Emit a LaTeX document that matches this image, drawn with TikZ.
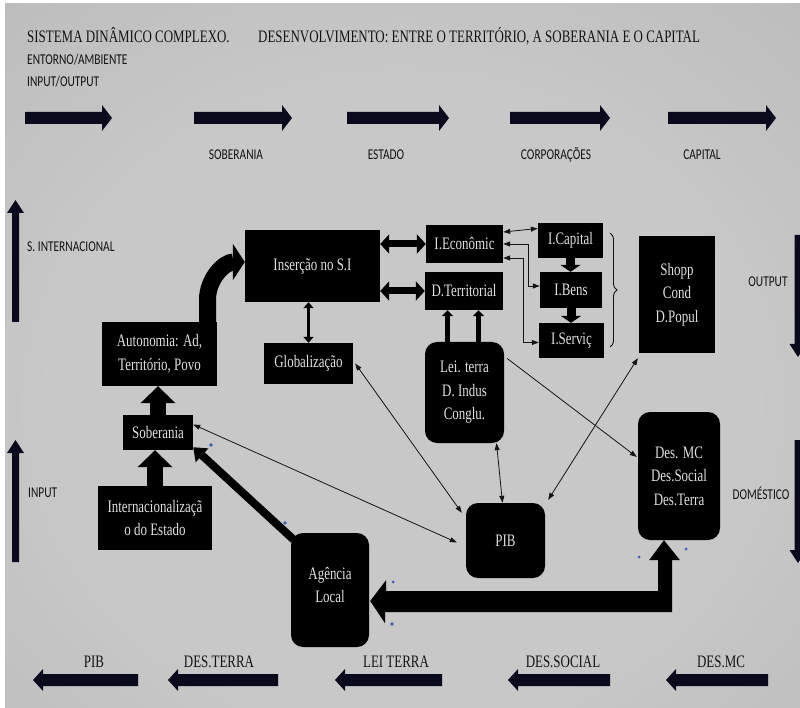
\documentclass[tikz,border=0pt]{standalone}
\usepackage{fontspec}
\setmainfont{Liberation Serif}[FakeStretch=0.74]
\newfontfamily\lblfont{Carlito}[FakeStretch=0.76]
\usetikzlibrary{arrows.meta,calc,decorations.pathreplacing}
\definecolor{bgin}{RGB}{200,200,200}
\definecolor{bgout}{RGB}{162,162,162}
\definecolor{boxtxt}{RGB}{225,225,225}
\definecolor{navy}{RGB}{10,10,28}
\definecolor{ink}{RGB}{20,20,20}
\definecolor{dotblue}{RGB}{60,90,180}
\pgfdeclareradialshading{bgshade}{\pgfpoint{0bp}{-5bp}}{color(0bp)=(bgin); color(22bp)=(bgin); color(75bp)=(bgout)}
\newcommand{\myRarrow}[3]{\fill[navy] (#1,#3-6) -- (#2-10,#3-6) -- (#2-10,#3-13) -- (#2,#3) -- (#2-10,#3+13) -- (#2-10,#3+6) -- (#1,#3+6) -- cycle;}
\newcommand{\myLarrow}[3]{\fill[navy] (#1,#3) -- (#1+10,#3-11) -- (#1+10,#3-6) -- (#2,#3-6) -- (#2,#3+6) -- (#1+10,#3+6) -- (#1+10,#3+11) -- cycle;}
\newcommand{\myUarrow}[3]{\fill[navy] (#1,#2) -- (#1+8.5,#2+13) -- (#1+3.5,#2+13) -- (#1+3.5,#3) -- (#1-3.5,#3) -- (#1-3.5,#2+13) -- (#1-8.5,#2+13) -- cycle;}
\newcommand{\myDarrow}[3]{\fill[navy] (#1,#2) -- (#1+8.5,#2-13) -- (#1+3.5,#2-13) -- (#1+3.5,#3) -- (#1-3.5,#3) -- (#1-3.5,#2-13) -- (#1-8.5,#2-13) -- cycle;}
\tikzset{
  blackbox/.style={fill=black, text=boxtxt, font=\fontsize{17.5}{23.5}\selectfont, align=center, inner sep=0pt},
  roundbox/.style={blackbox, rounded corners=12pt},
  boxtext/.style={text=boxtxt, font=\fontsize{17.5}{23.5}\selectfont, align=center, inner sep=0pt},
  sanslbl/.style={text=ink, font=\lblfont\fontsize{15}{17}\selectfont, inner sep=0pt},
  seriflbl/.style={text=ink, font=\fontsize{17.5}{20}\selectfont, inner sep=0pt},
  thinlink/.style={draw=ink, line width=0.8pt, {Triangle[length=7pt,width=5pt]}-{Triangle[length=7pt,width=5pt]}},
  thinone/.style={draw=ink, line width=0.8pt, -{Triangle[length=7pt,width=5pt]}},
  midlink/.style={draw=black, line width=7pt, {Triangle[length=9pt,width=19pt]}-{Triangle[length=9pt,width=19pt]}},
  smalldown/.style={draw=black, line width=9pt, -{Triangle[length=7pt,width=20pt]}},
  bigup/.style={draw=black, line width=16pt, -{Triangle[length=17pt,width=34pt]}},
  diaglink/.style={draw=black, line width=8pt, -{Triangle[length=12pt,width=18pt]}},
  curvelink/.style={draw=black, line width=17pt, -{Triangle[length=12pt,width=36pt]}},
  stem/.style={draw=black, line width=5pt, -{Triangle[length=6pt,width=11pt]}},
  dbllink/.style={draw=black, line width=3pt, {Triangle[length=6pt,width=10pt]}-{Triangle[length=6pt,width=10pt]}},
  hdot/.style={fill=dotblue}
}
\begin{document}
\begin{tikzpicture}[x=1pt,y=-1pt]
\useasboundingbox (0,0) rectangle (800,708);
\clip (0,0) rectangle (800,708);
\fill[white] (0,0) rectangle (800,708);
\shade[shading=bgshade] (5,4) rectangle (800,708);

% title and side texts
\node[seriflbl, anchor=base west] (t1) at (27,43) {SISTEMA DINÂMICO COMPLEXO.};
\node[seriflbl, anchor=base west] (t2) at (258,43) {DESENVOLVIMENTO: ENTRE O TERRITÓRIO, A SOBERANIA E O CAPITAL};
\node[sanslbl, anchor=west] (ent) at (27,60) {ENTORNO/AMBIENTE};
\node[sanslbl, anchor=west] (io) at (27,82) {INPUT/OUTPUT};

% top arrows
\myRarrow{25}{112}{118}
\myRarrow{194}{292}{118}
\myRarrow{347}{449}{118}
\myRarrow{510}{610}{118}
\myRarrow{668}{776}{118}
\node[sanslbl] (l1) at (236,155) {SOBERANIA};
\node[sanslbl] (l2) at (386,155) {ESTADO};
\node[sanslbl] (l3) at (556,155) {CORPORAÇÕES};
\node[sanslbl] (l4) at (702,155) {CAPITAL};

% side arrows
\myUarrow{15.5}{200}{322}
\myUarrow{15.5}{440}{562}
\myDarrow{798}{357}{235}
\myDarrow{798}{563}{440}
\node[sanslbl, anchor=west] (si) at (27,247) {S. INTERNACIONAL};
\node[sanslbl, anchor=west] (inp) at (28,493) {INPUT};
\node[sanslbl] (outp) at (768,282) {OUTPUT};
\node[sanslbl] (dom) at (761,493) {DOMÉSTICO};

% bottom arrows
\myLarrow{33}{138}{680}
\myLarrow{168}{278}{680}
\myLarrow{335}{442}{680}
\myLarrow{508}{610}{680}
\myLarrow{666}{768}{680}
\node[seriflbl, anchor=base] (b1) at (94,667) {PIB};
\node[seriflbl, anchor=base] (b2) at (219,667) {DES.TERRA};
\node[seriflbl, anchor=base] (b3) at (396,667) {LEI TERRA};
\node[seriflbl, anchor=base] (b4) at (563,667) {DES.SOCIAL};
\node[seriflbl, anchor=base] (b5) at (721,667) {DES.MC};

% boxes
\node[blackbox, minimum width=135pt, minimum height=72pt] (ins) at (312.5,266) {Inserção no S.I};
\node[blackbox, minimum width=115pt, minimum height=64pt] (auto) at (159.5,354) {Autonomia: Ad,\\Território, Povo};
\node[blackbox, minimum width=89pt, minimum height=41pt] (glob) at (308.5,363.5) {Globalização};
\node[blackbox, minimum width=77pt, minimum height=38pt] (econ) at (464.5,244) {I.Econômic};
\node[blackbox, minimum width=78pt, minimum height=38pt] (dterr) at (464,291) {D.Territorial};
\node[blackbox, minimum width=65pt, minimum height=35pt] (icap) at (570.5,240.5) {I.Capital};
\node[blackbox, minimum width=62pt, minimum height=36pt] (ibens) at (571,290) {I.Bens};
\node[blackbox, minimum width=65pt, minimum height=35pt] (iserv) at (571.5,340.5) {I.Serviç};
\node[blackbox, minimum width=76pt, minimum height=117pt] (shopp) at (677,294.5) {Shopp\\Cond\\D.Popul};
\node[roundbox, minimum width=79pt, minimum height=101pt] (lei) at (464.5,392.5) {Lei. terra\\D. Indus\\Conglu.};
\node[roundbox, minimum width=79pt, minimum height=75pt] (pib) at (505.5,540.5) {PIB};
\node[roundbox, minimum width=82pt, minimum height=128pt] (desmc) at (679,476) {Des. MC\\Des.Social\\Des.Terra};
\node[roundbox, minimum width=78pt, minimum height=114pt] (agencia) at (330,590) {};
\node[boxtext] (agtext) at ([yshift=5pt]agencia.center) {Agência\\Local};
\node[blackbox, minimum width=70pt, minimum height=35pt] (sob) at (158,432.5) {Soberania};
\node[blackbox, minimum width=114pt, minimum height=64pt] (intl) at (155,518) {Internacionalizaçã\\o do Estado};

% brace
\draw[ink, line width=0.9pt, decorate, decoration={brace, amplitude=7pt}] (610,233) -- (610,347);

% thick connectors
\draw[curvelink] ([xshift=48pt]auto.north) -- ++(0,-22) to[out=90,in=180] ([yshift=4pt]ins.west);
\draw[dbllink] (glob.north |- ins.south) -- (glob.north);
\draw[midlink] (ins.east |- econ.west) -- (econ.west);
\draw[midlink] (ins.east |- dterr.west) -- (dterr.west);
\draw[smalldown] (icap.south) -- (icap.south |- ibens.north);
\draw[smalldown] (ibens.south) -- (ibens.south |- iserv.north);
\draw[stem] ([xshift=-17pt]lei.north) -- ([xshift=-17pt]lei.north |- dterr.south);
\draw[stem] ([xshift=14pt]lei.north) -- ([xshift=14pt]lei.north |- dterr.south);
\draw[bigup] (intl.north) -- (intl.north |- sob.south);
\draw[bigup] (sob.north) -- (sob.north |- auto.south);
\draw[diaglink] ([xshift=3pt,yshift=-7pt]agencia.north west) -- ([yshift=3pt]sob.south east);

% big L arrow between Des. MC and Agência Local
\coordinate (uptip) at ([xshift=-15pt]desmc.south);
\coordinate (lefttip) at ([xshift=1pt,yshift=-11pt]agencia.east);
\fill[black] (uptip) -- ++(16,20) -- ++(-8,0) -- ++(0,52) -- ++(-287,0) -- ++(0,11) -- (lefttip) -- ++(16,-21) -- ++(0,11) -- ++(272,0) -- ++(0,-31) -- ++(-9,0) -- cycle;

% thin connectors
\draw[thinlink] ([yshift=12pt]econ.east) -- ([yshift=12pt]icap.west);
\draw[thinlink] (econ.east) -- ++(25,0) |- ([yshift=4pt]ibens.west);
\draw[thinlink] ([yshift=-14pt]econ.east) -- ++(20,0) |- ([yshift=-2pt]iserv.west);
\draw[thinlink] ([xshift=32pt]lei.south) -- ([xshift=-3pt]pib.north);
\draw[thinlink] ([yshift=8pt]sob.east) -- ([xshift=-9pt,yshift=-2pt]pib.west);
\draw[thinlink] ([xshift=2pt]glob.east) -- ([xshift=-4pt,yshift=-10pt]pib.north west);
\draw[thinone] ([xshift=3pt,yshift=34pt]lei.east) -- ([xshift=-1pt,yshift=19pt]desmc.west);
\draw[thinlink] ([xshift=3pt,yshift=3pt]pib.north east) -- ([xshift=-1pt,yshift=-5pt]shopp.south west);

% small blue handle marks
\fill[hdot] (211,445) circle (1.8pt);
\fill[hdot] (285,523) circle (1.8pt);
\fill[hdot] (393,582) circle (1.5pt);
\fill[hdot] (392,624) circle (1.8pt);
\fill[hdot] (639,557) circle (1.5pt);
\fill[hdot] (686,549) circle (1.5pt);
\end{tikzpicture}
\end{document}
